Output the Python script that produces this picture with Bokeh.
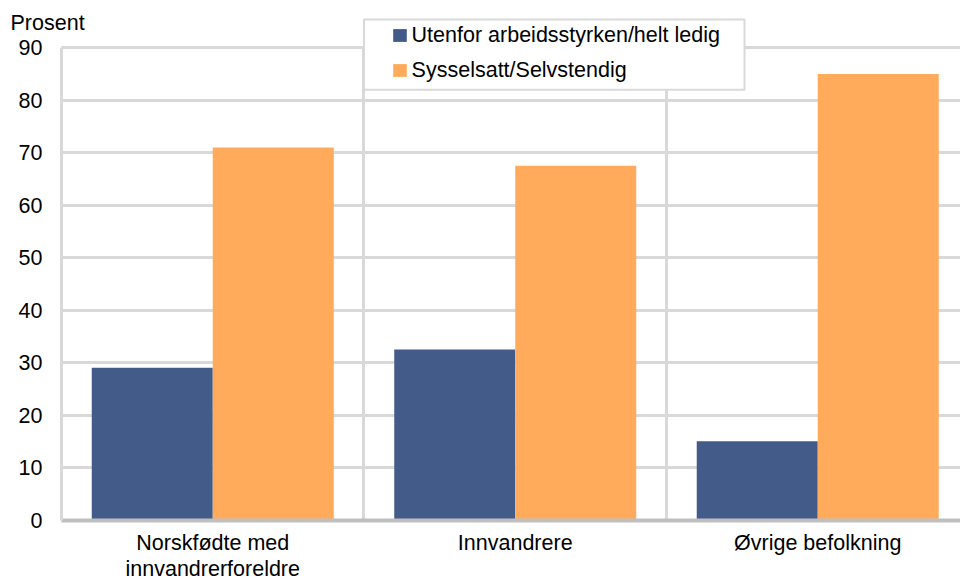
import numpy as np
from bokeh.plotting import figure
from bokeh.models import (FixedTicker, Legend, LegendItem, Label, BoxAnnotation, Range1d, Grid)
from bokeh.embed import file_html
from bokeh.resources import INLINE

categories = ["Norskfødte med\ninnvandrerforeldre", "Innvandrere", "Øvrige befolkning"]
series_names = ["Utenfor arbeidsstyrken/helt ledig", "Sysselsatt/Selvstendig"]
utenfor = [29, 32.5, 15]
sysselsatt = [71, 67.5, 85]
y_ticks = [0, 10, 20, 30, 40, 50, 60, 70, 80, 90]
colors = ["#425B88", "#FFAB5B"]

FONT = "Liberation Sans"
FS = "21.5px"
GRID = "#d9d9d9"

idx = np.arange(len(categories))
centers = idx + 0.5
y_max = y_ticks[-1]
n_cat = len(categories)

# frame covers the whole canvas; axes are pinned inside with fixed_location
X0, X1 = -0.2017, 2.972
Y0, Y1 = -11.53, 99.02

p = figure(width=960, height=580, output_backend="svg", toolbar_location=None,
           x_range=Range1d(X0, X1), y_range=Range1d(Y0, Y1),
           min_border_left=0, min_border_right=0, min_border_top=0, min_border_bottom=0)
p.outline_line_color = None
p.background_fill_color = "white"
p.border_fill_color = "white"

r1 = p.vbar(x=centers - 0.2, top=utenfor, width=0.4, fill_color=colors[0], line_color=None)
r2 = p.vbar(x=centers + 0.2, top=sysselsatt, width=0.4, fill_color=colors[1], line_color=None)

# grids
has_cb = "cross_bounds" in Grid.properties()
p.ygrid.ticker = FixedTicker(ticks=y_ticks)
p.xgrid.ticker = FixedTicker(ticks=list(idx[1:]))
for g in (p.xgrid, p.ygrid):
    g.grid_line_color = GRID
    g.grid_line_width = 3
if has_cb:
    p.ygrid.cross_bounds = (0, n_cat)
    p.xgrid.cross_bounds = (0, y_max)
else:
    p.ygrid.visible = False
    p.xgrid.visible = False
    p.segment(x0=0, x1=n_cat, y0=y_ticks, y1=y_ticks, line_color=GRID, line_width=3, level="underlay")
    p.segment(x0=idx[1:], x1=idx[1:], y0=0, y1=y_max, line_color=GRID, line_width=3, level="underlay")

# y axis
yax = p.yaxis[0]
yax.fixed_location = 0
yax.bounds = (0, y_max)
yax.ticker = FixedTicker(ticks=y_ticks)
yax.axis_line_color = GRID
yax.axis_line_width = 3
yax.major_tick_line_color = None
yax.minor_tick_line_color = None
yax.major_label_standoff = 13
yax.major_label_text_font = FONT
yax.major_label_text_font_size = FS
yax.major_label_text_color = "#000000"

# x axis
xax = p.xaxis[0]
xax.fixed_location = 0
xax.bounds = (0, n_cat)
xax.ticker = FixedTicker(ticks=list(centers))
xax.major_label_overrides = {float(c): lab for c, lab in zip(centers, categories)}
xax.axis_line_color = "#bfbfbf"
xax.axis_line_width = 4
xax.major_tick_line_color = None
xax.minor_tick_line_color = None
xax.major_label_standoff = 5
xax.major_label_text_font = FONT
xax.major_label_text_font_size = FS
xax.major_label_text_color = "#000000"
xax.major_label_text_line_height = 1.1

# unit label
p.add_layout(Label(x=0, y=y_max, x_offset=-51, y_offset=25, text="Prosent",
                   text_font=FONT, text_font_size=FS, text_color="#000000",
                   text_baseline="alphabetic", text_align="left"))

# legend box
p.add_layout(BoxAnnotation(left=1.0, right=2.258, top=95.39, bottom=82.0,
                           fill_color="white", fill_alpha=1.0,
                           line_color=GRID, line_width=2, line_alpha=1.0))

legend = Legend(items=[LegendItem(label=series_names[0], renderers=[r1]),
                       LegendItem(label=series_names[1], renderers=[r2])],
                location=(390.6, 497.3), orientation="vertical",
                padding=0, spacing=10, margin=0,
                glyph_width=17, glyph_height=16, label_standoff=4, label_height=24,
                label_text_font=FONT, label_text_font_size=FS, label_text_color="#000000",
                border_line_color=None, background_fill_alpha=0)
p.add_layout(legend, "center")

open("out.html", "w").write(file_html(p, INLINE))
